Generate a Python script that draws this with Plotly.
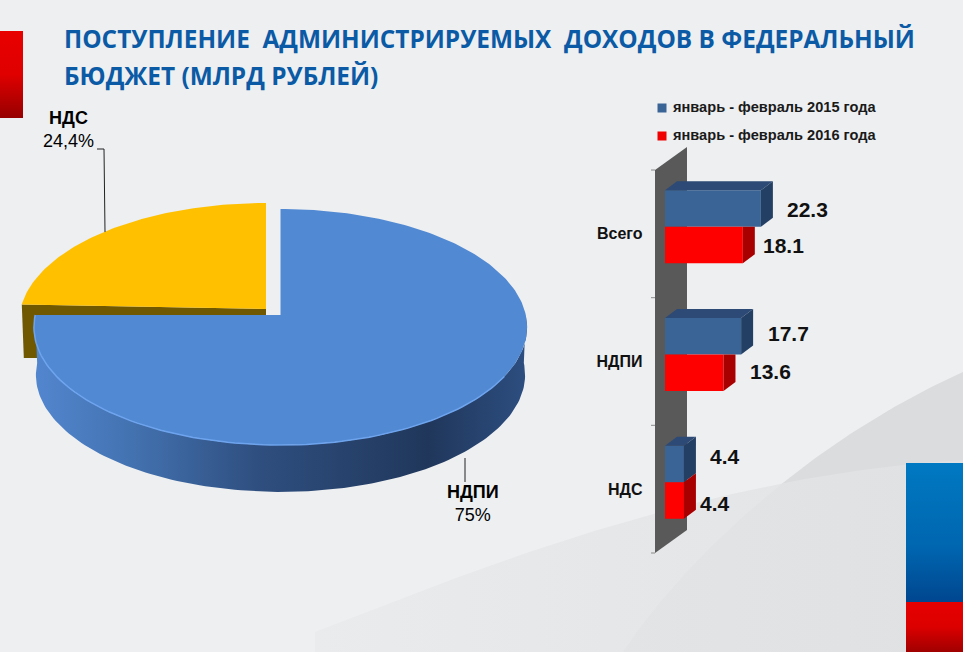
import numpy as np
import plotly.graph_objects as go

# ---- data ----
pie_names = ["НДПИ", "НДС"]
pie_values = [75.0, 24.4]
pie_texts = ["75%", "24,4%"]
categories = ["Всего", "НДПИ", "НДС"]
series_names = ["январь - февраль 2015 года", "январь - февраль 2016 года"]
values_2015 = [22.3, 17.7, 4.4]
values_2016 = [18.1, 13.6, 4.4]

W, H = 963, 652
FONT = "Liberation Sans"
BG = "#edeff1"
fig = go.Figure()


def poly(xs, ys, color=None, grad=None, xa="x", ya="y"):
    fig.add_trace(go.Scatter(
        x=list(xs), y=list(ys), mode="lines", fill="toself",
        fillcolor=color, fillgradient=grad, line=dict(width=0), xaxis=xa, yaxis=ya,
        hoverinfo="skip", showlegend=False))


def bez(p0, p1, p2, p3, n=60):
    t = np.linspace(0, 1, n)[:, None]
    p0, p1, p2, p3 = map(np.array, (p0, p1, p2, p3))
    c = (1 - t) ** 3 * p0 + 3 * (1 - t) ** 2 * t * p1 + 3 * (1 - t) * t ** 2 * p2 + t ** 3 * p3
    return c[:, 0], c[:, 1]


# ---- background swooshes ----
bx, by = bez((623, 652), (670, 580), (790, 450), (963, 372))
poly(np.r_[bx, 963], np.r_[by, 652], "#dedfe1")
ax_, ay_ = bez((315, 632), (450, 580), (700, 475), (963, 460))
poly(np.r_[315, ax_, 963], np.r_[652, ay_, 652],
     grad=dict(type="horizontal", colorscale=[[0, "#eaebed"], [0.45, "#e6e7e9"], [1, "#e3e4e6"]]))
poly(np.r_[bx, 963], np.r_[by, 652], "rgba(120,122,125,0.025)")

# ---- decorative blocks (y axis runs downwards, so colour stops run bottom to top) ----
poly([0, 23, 23, 0], [31, 31, 118, 118],
     grad=dict(type="vertical", colorscale=[[0, "#960000"], [0.5, "#e00000"], [1, "#e80000"]]))
poly([906, 963, 963, 906], [463, 463, 602, 602],
     grad=dict(type="vertical", colorscale=[[0, "#00468f"], [0.4, "#0066b0"], [1, "#0079c2"]]))
poly([906, 963, 963, 906], [602, 602, 652, 652],
     grad=dict(type="vertical", colorscale=[[0, "#a00000"], [0.5, "#dc0000"], [1, "#e60000"]]))

# ---- 3-D pie, sweep taken from the values ----
CX, CY, RX, RY, K = 280.5, 315.0, 245.3, 116.8, 0.102
DEPTH = 48.0


def project(theta_deg, r=1.0, ox=0.0, oy=0.0):
    """theta clockwise from the top; flat disc seen in perspective."""
    t = np.radians(theta_deg)
    u, v = r * np.sin(t), r * np.cos(t)
    w = 1 + K * v
    return CX + RX * u / w + ox, CY - RY * v / w + oy


blue_sweep = 3.6 * pie_values[0]
yellow_start = 360 - 3.6 * pie_values[1]
OFF = (-14.5, -6.0)

# exploded slice: rim then top
a = np.linspace(yellow_start, 360, 80)
x1, y1 = project(a, ox=OFF[0], oy=OFF[1])
xl, yl = project(yellow_start, ox=OFF[0], oy=OFF[1])
ax, ay = CX + OFF[0], CY + OFF[1]
poly([xl, xl + 2, ax, ax, xl], [yl, ay + DEPTH + 1, ay + DEPTH + 1, ay, yl], "#705800")
poly(np.r_[ax, x1, ax], np.r_[ay, y1, ay], "#ffc000")

# main slice: rim then top
a = np.linspace(90, blue_sweep, 140)
xt, yt = project(a)
xb, yb = project(a, r=0.992, oy=DEPTH)
poly(np.r_[xt, xb[::-1]], np.r_[yt, yb[::-1]],
     grad=dict(type="horizontal", colorscale=[[0, "#5286cf"], [0.2, "#4372b0"], [0.45, "#2f4f80"],
                                               [0.8, "#20375b"], [1, "#2d4e80"]]))
a = np.linspace(0, blue_sweep, 220)
xt, yt = project(a)
poly(np.r_[CX, xt, CX], np.r_[CY, yt, CY], "#5289d3")
a = np.linspace(120, blue_sweep, 100)
xt, yt = project(a)
fig.add_trace(go.Scatter(x=xt, y=yt, mode="lines", line=dict(color="#6ea4ee", width=1.5),
                         hoverinfo="skip", showlegend=False))

# leaders
for xs, ys in [([97, 104, 105], [149, 149, 232]), ([465, 465], [458, 482])]:
    fig.add_trace(go.Scatter(x=xs, y=ys, mode="lines", line=dict(color="#222222", width=1),
                             hoverinfo="skip", showlegend=False))

# wall of the bar chart
poly([655, 687, 687, 655], [170, 147, 530, 553], "#595959")
for yy in [170, 297.7, 425.3, 553]:
    fig.add_trace(go.Scatter(x=[651, 655], y=[yy, yy], mode="lines", line=dict(color="#8a8a8a", width=1),
                             hoverinfo="skip", showlegend=False))

# legend
fig.add_trace(go.Scatter(
    x=[662, 662], y=[108, 136], mode="markers",
    marker=dict(symbol="square", size=9, color=["#3a6496", "#f00000"]),
    hoverinfo="skip", showlegend=False))
fig.add_trace(go.Scatter(
    x=[673, 673], y=[108, 136], mode="text", text=series_names, textposition="middle right",
    textfont=dict(family=FONT, size=14.6, color="#1a1a1a", weight="bold"),
    hoverinfo="skip", showlegend=False))

# ---- bars ----
PX_PER_UNIT = 4.3
BAND = 127.67
BAR_H = 36.5 / BAND
DX = 12 / PX_PER_UNIT
DY = 9 / BAND
ypos = list(range(len(categories)))
fig.add_trace(go.Bar(y=ypos, x=values_2015, orientation="h", name=series_names[0],
                     marker=dict(color="#3a6496", line=dict(width=0)),
                     xaxis="x2", yaxis="y2", showlegend=False, hoverinfo="x"))
fig.add_trace(go.Bar(y=ypos, x=values_2016, orientation="h", name=series_names[1],
                     marker=dict(color="#ff0000", line=dict(width=0)),
                     xaxis="x2", yaxis="y2", showlegend=False, hoverinfo="x"))
for i in ypos:
    v, top = values_2015[i], i - BAR_H
    poly([0, v, v + DX, DX], [top, top, top - DY, top - DY], "#2c4a75", xa="x2", ya="y2")
    poly([v, v + DX, v + DX, v], [top, top - DY, top + BAR_H - DY, top + BAR_H], "#233f63", xa="x2", ya="y2")
for i in ypos:
    v, top = values_2016[i], float(i)
    back = top - DY if v >= values_2015[i] else top
    poly([v, v + DX, v + DX, v], [top, back, top + BAR_H - DY, top + BAR_H], "#a80000", xa="x2", ya="y2")

# ---- annotations ----
ann = []
# pixel offsets of the value labels from the bar ends: (x 2015, y 2015, x 2016, y 2016)
label_shift = [(24, 1, 18, 0), (25, -3, 25, -1), (24, -7, 14, 3)]
for i in ypos:
    sx1, sy1, sx2, sy2 = label_shift[i]
    ann.append(dict(x=values_2015[i], y=i - BAR_H / 2, xref="x2", yref="y2", text=f"<b>{values_2015[i]}</b>",
                    xanchor="left", xshift=sx1, yshift=-sy1, showarrow=False,
                    font=dict(family=FONT, size=21, color="#111111")))
    ann.append(dict(x=values_2016[i], y=i + BAR_H / 2, xref="x2", yref="y2", text=f"<b>{values_2016[i]}</b>",
                    xanchor="left", xshift=sx2, yshift=-sy2, showarrow=False,
                    font=dict(family=FONT, size=21, color="#111111")))
for name, txt, x, y in [(pie_names[0], pie_texts[0], 473, 503), (pie_names[1], pie_texts[1], 68, 129)]:
    ann.append(dict(x=x, y=y, xref="x", yref="y", text=f"<b>{name}</b><br>{txt}", showarrow=False,
                    font=dict(family=FONT, size=18, color="#000000")))
for line, y in [("ПОСТУПЛЕНИЕ  АДМИНИСТРИРУЕМЫХ  ДОХОДОВ В ФЕДЕРАЛЬНЫЙ", 38), ("БЮДЖЕТ (МЛРД РУБЛЕЙ)", 75)]:
    ann.append(dict(x=62, y=y, xref="x", yref="y", text=f"<b>{line}</b>", xanchor="left", showarrow=False,
                    font=dict(family="Open Sans", size=24.4, color="#0b5aa5")))

fig.update_layout(
    width=W, height=H, margin=dict(l=0, r=0, t=0, b=0), autosize=False,
    paper_bgcolor=BG, plot_bgcolor="rgba(0,0,0,0)", showlegend=False,
    barmode="group", bargap=1 - 2 * BAR_H,
    annotations=ann,
    xaxis=dict(range=[0, W], domain=[0, 1], visible=False, fixedrange=True),
    yaxis=dict(range=[H, 0], domain=[0, 1], visible=False, fixedrange=True),
    xaxis2=dict(range=[-5, 30], domain=[643.5 / W, 794 / W], anchor="y2", visible=False, fixedrange=True),
    yaxis2=dict(range=[2.5, -0.5], domain=[1 - 546 / H, 1 - 163 / H], anchor="x2", fixedrange=True,
                tickvals=[i + 7 / BAND for i in ypos], ticktext=categories, ticks="",
                showgrid=False, zeroline=False, showline=False,
                tickfont=dict(family=FONT, size=16, color="#111111", weight="bold")),
)
fig.write_html("out.html", config={"displayModeBar": False},
               post_script="document.body.style.margin='0';document.body.style.overflow='hidden';")
